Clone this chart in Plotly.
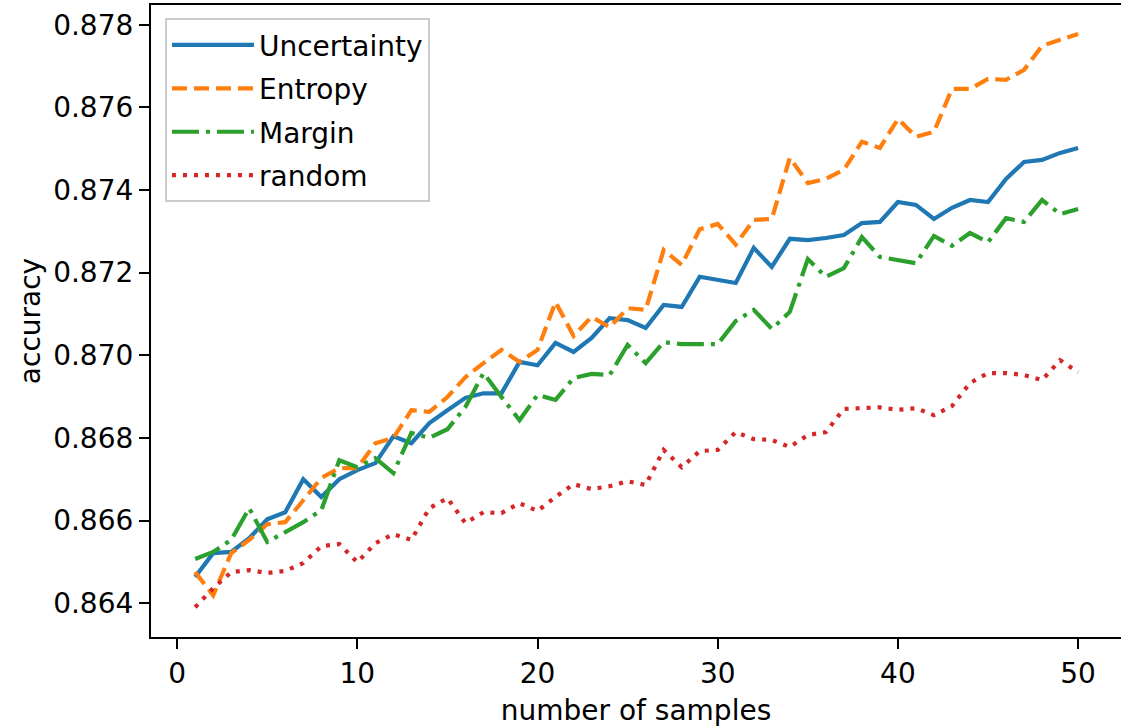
import plotly.graph_objects as go

samples = list(range(1, 51))

uncertainty = [0.86463, 0.86521, 0.86524, 0.86557, 0.86603, 0.86620, 0.86700, 0.86657, 0.86700, 0.86722,
               0.86739, 0.86804, 0.86787, 0.86836, 0.86867, 0.86897, 0.86908, 0.86908, 0.86984, 0.86976,
               0.87030, 0.87008, 0.87042, 0.87090, 0.87085, 0.87066, 0.87122, 0.87117, 0.87190, 0.87182,
               0.87175, 0.87260, 0.87214, 0.87282, 0.87279, 0.87284, 0.87291, 0.87320, 0.87323, 0.87371,
               0.87364, 0.87330, 0.87357, 0.87376, 0.87371, 0.87427, 0.87468, 0.87473, 0.87490, 0.87502]

entropy = [0.86475, 0.86419, 0.86521, 0.86553, 0.86591, 0.86596, 0.86649, 0.86703, 0.86727, 0.86727,
           0.86787, 0.86800, 0.86867, 0.86863, 0.86899, 0.86947, 0.86981, 0.87013, 0.86984, 0.87013,
           0.87129, 0.87047, 0.87093, 0.87068, 0.87114, 0.87110, 0.87255, 0.87219, 0.87305, 0.87318,
           0.87268, 0.87328, 0.87330, 0.87478, 0.87417, 0.87427, 0.87449, 0.87517, 0.87502, 0.87572,
           0.87529, 0.87541, 0.87645, 0.87645, 0.87669, 0.87667, 0.87691, 0.87749, 0.87764, 0.87778]

margin = [0.86507, 0.86524, 0.86553, 0.86630, 0.86548, 0.86572, 0.86596, 0.86625, 0.86746, 0.86729,
          0.86751, 0.86715, 0.86812, 0.86800, 0.86821, 0.86875, 0.86957, 0.86899, 0.86843, 0.86904,
          0.86892, 0.86945, 0.86955, 0.86952, 0.87025, 0.86981, 0.87032, 0.87027, 0.87027, 0.87027,
          0.87083, 0.87110, 0.87064, 0.87105, 0.87233, 0.87190, 0.87211, 0.87286, 0.87238, 0.87231,
          0.87223, 0.87289, 0.87265, 0.87296, 0.87274, 0.87332, 0.87323, 0.87376, 0.87342, 0.87354]

random_acc = [0.86390, 0.86436, 0.86475, 0.86480, 0.86473, 0.86478, 0.86497, 0.86538, 0.86543, 0.86499,
              0.86545, 0.86567, 0.86553, 0.86630, 0.86654, 0.86594, 0.86620, 0.86618, 0.86642, 0.86623,
              0.86657, 0.86688, 0.86676, 0.86683, 0.86695, 0.86686, 0.86771, 0.86729, 0.86768, 0.86771,
              0.86814, 0.86797, 0.86795, 0.86778, 0.86807, 0.86814, 0.86870, 0.86872, 0.86874, 0.86868,
              0.86872, 0.86855, 0.86877, 0.86933, 0.86957, 0.86957, 0.86952, 0.86940, 0.86988, 0.86959]

series_names = ["Uncertainty", "Entropy", "Margin", "random"]
series_values = [uncertainty, entropy, margin, random_acc]
colors = ["#1f77b4", "#ff7f0e", "#2ca02c", "#d62728"]
dashes = ["solid", "15px,7px", "27px,7px,4px,7px", "4px,7px"]

x_ticks = [0, 10, 20, 30, 40, 50]
y_ticks = [0.864, 0.866, 0.868, 0.870, 0.872, 0.874, 0.876, 0.878]

FONT = "DejaVu Sans"

fig = go.Figure()
for name, vals, c, d in zip(series_names, series_values, colors, dashes):
    fig.add_trace(go.Scatter(
        x=samples, y=vals, mode="lines", name=name, legendgroup=name,
        line=dict(color=c, width=4.2, dash=d),
    ))

fig.update_layout(
    width=1121, height=727,
    margin=dict(l=151, r=0, t=5, b=90, autoexpand=False),
    paper_bgcolor="white", plot_bgcolor="white",
    font=dict(family=FONT, size=28, color="black"),
    showlegend=True,
    legend=dict(
        x=0.0144, y=0.979, xanchor="left", yanchor="top",
        bgcolor="rgba(255,255,255,0.8)", bordercolor="#cccccc", borderwidth=2,
        font=dict(family=FONT, size=28, color="black"),
        tracegroupgap=4, itemwidth=82,
    ),
    xaxis=dict(
        range=[-1.45, 52.38], tickmode="array", tickvals=x_ticks,
        ticks="outside", ticklen=10, tickwidth=2.2, tickcolor="black",
        showline=True, linecolor="black", linewidth=2.2, mirror=True,
        showgrid=False, zeroline=False, automargin=False,
        title=dict(text="number of samples", standoff=13, font=dict(size=28)),
        tickfont=dict(size=28),
    ),
    yaxis=dict(
        range=[0.86318, 0.87848], tickmode="array", tickvals=y_ticks,
        tickformat=".3f",
        ticks="outside", ticklen=10, tickwidth=2.2, tickcolor="black",
        showline=True, linecolor="black", linewidth=2.2, mirror=False,
        showgrid=False, zeroline=False, automargin=False,
        title=dict(text="accuracy", standoff=4, font=dict(size=28)),
        tickfont=dict(size=28),
    ),
)

fig.write_html(
    "out.html",
    config={"displayModeBar": False},
    post_script="document.body.style.margin='0';document.body.style.overflow='hidden';",
)
